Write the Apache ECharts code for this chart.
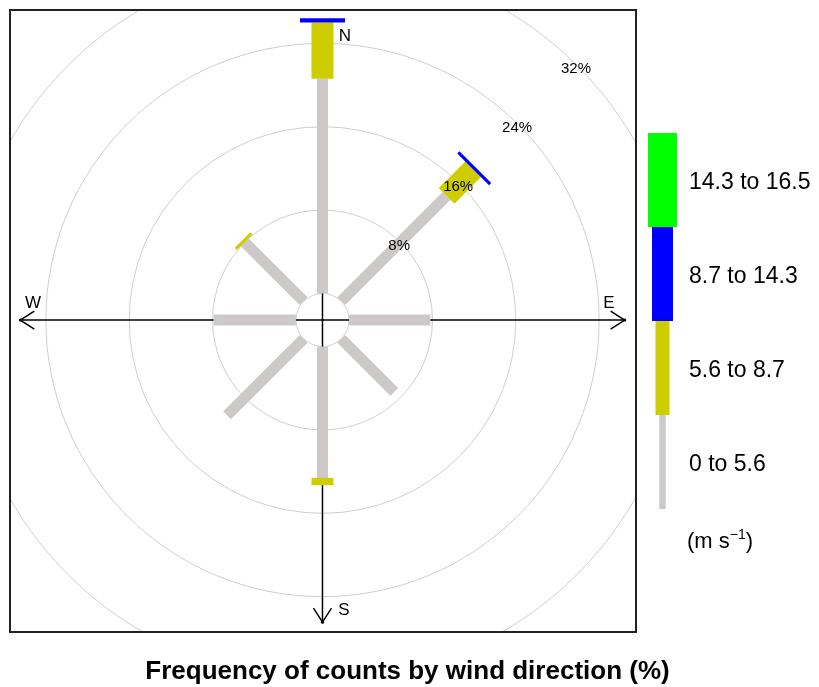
<!DOCTYPE html>
<html>
<head>
<meta charset="utf-8">
<script src="https://cdn.jsdelivr.net/npm/echarts@6/dist/echarts.min.js"></script>
<style>
html,body{margin:0;padding:0;background:#fff;}
#chart{width:819px;height:687px;}
</style>
</head>
<body>
<div id="chart"></div>
<script>
// ---- data ----
const directions = ['N', 'NE', 'E', 'SE', 'S', 'SW', 'W', 'NW'];
const dirAngles = [0, 45, 90, 135, 180, 225, 270, 315];
const speedBins = ['0 to 5.6', '5.6 to 8.7', '8.7 to 14.3', '14.3 to 16.5'];
const freqBin0 = [20.6, 14.3, 7.8, 7.2, 12.6, 10.4, 7.9, 8.0];
const freqBin1 = [5.4, 3.6, 0, 0, 0.7, 0, 0, 0.3];
const freqBin2 = [0.4, 0.3, 0, 0, 0, 0, 0, 0];
const freqBin3 = [0, 0, 0, 0, 0, 0, 0, 0];
const gridPct = [8, 16, 24, 32];
const gridLabels = ['8%', '16%', '24%', '32%'];
const unitLabel = '(m s';
const titleText = 'Frequency of counts by wind direction (%)';

// ---- styles ----
const binColors = ['#cdc9c9', '#cdcd00', '#0000ff', '#00ff00'];
const paddleWidths = [11, 22, 45, 90];
const legendWidths = [6.5, 14, 21, 29];
const OFF = 2.55;   // radial offset (hole) in % units
const AX = 29;      // axis arrow extent
const FONT = '"Liberation Sans", Arial, sans-serif';

const bins = [freqBin0, freqBin1, freqBin2, freqBin3];
const paddleData = [];
directions.forEach((d, i) => {
  let cum = 0;
  bins.forEach((arr, b) => {
    const v = arr[i];
    if (v > 0) {
      paddleData.push([dirAngles[i], cum, cum + v, b]);
      cum += v;
    }
  });
});

const chart = echarts.init(document.getElementById('chart'), null, {renderer: 'canvas'});

function paddleItem(params, api) {
  const a = api.value(0) * Math.PI / 180;
  const r0 = OFF + api.value(1), r1 = OFF + api.value(2);
  const b = api.value(3);
  const p0 = api.coord([r0 * Math.sin(a), r0 * Math.cos(a)]);
  const p1 = api.coord([r1 * Math.sin(a), r1 * Math.cos(a)]);
  const dx = p1[0] - p0[0], dy = p1[1] - p0[1];
  const len = Math.sqrt(dx * dx + dy * dy) || 1;
  const nx = -dy / len, ny = dx / len, hw = paddleWidths[b] / 2;
  return {
    type: 'polygon',
    shape: {points: [
      [p0[0] + nx * hw, p0[1] + ny * hw],
      [p1[0] + nx * hw, p1[1] + ny * hw],
      [p1[0] - nx * hw, p1[1] - ny * hw],
      [p0[0] - nx * hw, p0[1] - ny * hw]
    ]},
    style: {fill: binColors[b]}
  };
}

function circleItem(params, api) {
  const c = api.coord([0, 0]);
  const r = api.size([OFF + api.value(0), 0])[0];
  return {type: 'circle', shape: {cx: c[0], cy: c[1], r: r},
    style: {fill: null, stroke: '#cfcfcf', lineWidth: 1}};
}

function labelItem(params, api) {
  const pct = api.value(0);
  const r = OFF + pct;
  const a = Math.PI / 4;
  const p = api.coord([r * Math.sin(a), r * Math.cos(a)]);
  return {type: 'text', x: p[0] - 1, y: p[1] + 3.5,
    style: {text: gridLabels[params.dataIndex], fill: '#000', font: '15px ' + FONT,
      align: 'center', verticalAlign: 'middle'}};
}

function axisItem(params, api) {
  const w = api.coord([-AX, 0]), e = api.coord([AX, 0]);
  const s = api.coord([0, -AX]), top = api.coord([0, 2.7]);
  const ls = {stroke: '#000', lineWidth: 1.5};
  function arrow(t, ux, uy) {
    const px = -uy, py = ux;
    return [
      {type: 'line', shape: {x1: t[0], y1: t[1], x2: t[0] - ux * 14 + px * 9, y2: t[1] - uy * 14 + py * 9}, style: ls},
      {type: 'line', shape: {x1: t[0], y1: t[1], x2: t[0] - ux * 14 - px * 9, y2: t[1] - uy * 14 - py * 9}, style: ls},
      {type: 'circle', shape: {cx: t[0], cy: t[1], r: 1.6}, style: {fill: '#000'}}
    ];
  }
  return {type: 'group', children: [
    {type: 'line', shape: {x1: w[0], y1: w[1], x2: e[0], y2: e[1]}, style: ls},
    {type: 'line', shape: {x1: top[0], y1: top[1], x2: s[0], y2: s[1]}, style: ls}
  ].concat(arrow(w, -1, 0), arrow(e, 1, 0), arrow(s, 0, 1))};
}

// legend graphics
const legendTop = 133, segH = 94, legendCx = 662.5;
const graphics = [];
for (let b = 0; b < speedBins.length; b++) {
  const idx = speedBins.length - 1 - b; // top to bottom
  const y0 = legendTop + b * segH;
  graphics.push({type: 'rect', shape: {x: legendCx - legendWidths[idx] / 2, y: y0, width: legendWidths[idx], height: segH},
    style: {fill: binColors[idx]}});
  graphics.push({type: 'text', x: 689, y: y0 + segH / 2 + 3,
    style: {text: speedBins[idx], fill: '#000', font: '23px ' + FONT, verticalAlign: 'middle'}});
}
graphics.push({type: 'text', x: 687, y: 542,
  style: {rich: {m: {fontSize: 22, fontFamily: FONT, fill: '#000'}, sup: {fontSize: 14, fontFamily: FONT, fill: '#000', verticalAlign: 'top', padding: [0, 0, 14, 0]}},
    text: '{m|' + unitLabel + '}{sup|−1}{m|)}', verticalAlign: 'middle'}});
// compass letters
const compass = [['N', 345, 36], ['E', 609, 303], ['S', 344, 610], ['W', 33, 303]];
compass.forEach(c => graphics.push({type: 'text', x: c[1], y: c[2],
  style: {text: c[0], fill: '#000', font: '17px ' + FONT, align: 'center', verticalAlign: 'middle'}}));
graphics.push({type: 'text', x: 407.5, y: 672,
  style: {text: titleText, fill: '#000', font: 'bold 26px ' + FONT, align: 'center', verticalAlign: 'middle'}});

const option = {
  animation: false,
  backgroundColor: '#fff',
  grid: {left: 10, top: 10, width: 626, height: 622, show: true, borderColor: '#222', borderWidth: 2, backgroundColor: 'transparent', z: 10},
  xAxis: {type: 'value', min: -29.99, max: 30.09, show: false},
  yAxis: {type: 'value', min: -29.94, max: 29.75, show: false},
  graphic: graphics,
  series: [
    {type: 'custom', renderItem: circleItem, data: [0].concat(gridPct).concat([40]), clip: true, z: 1, silent: true},
    {type: 'custom', renderItem: axisItem, data: [0], clip: true, z: 2, silent: true},
    {type: 'custom', renderItem: paddleItem, data: paddleData, clip: true, z: 3},
    {type: 'custom', renderItem: labelItem, data: gridPct, clip: true, z: 4, silent: true}
  ]
};
chart.setOption(option);
</script>
</body>
</html>
